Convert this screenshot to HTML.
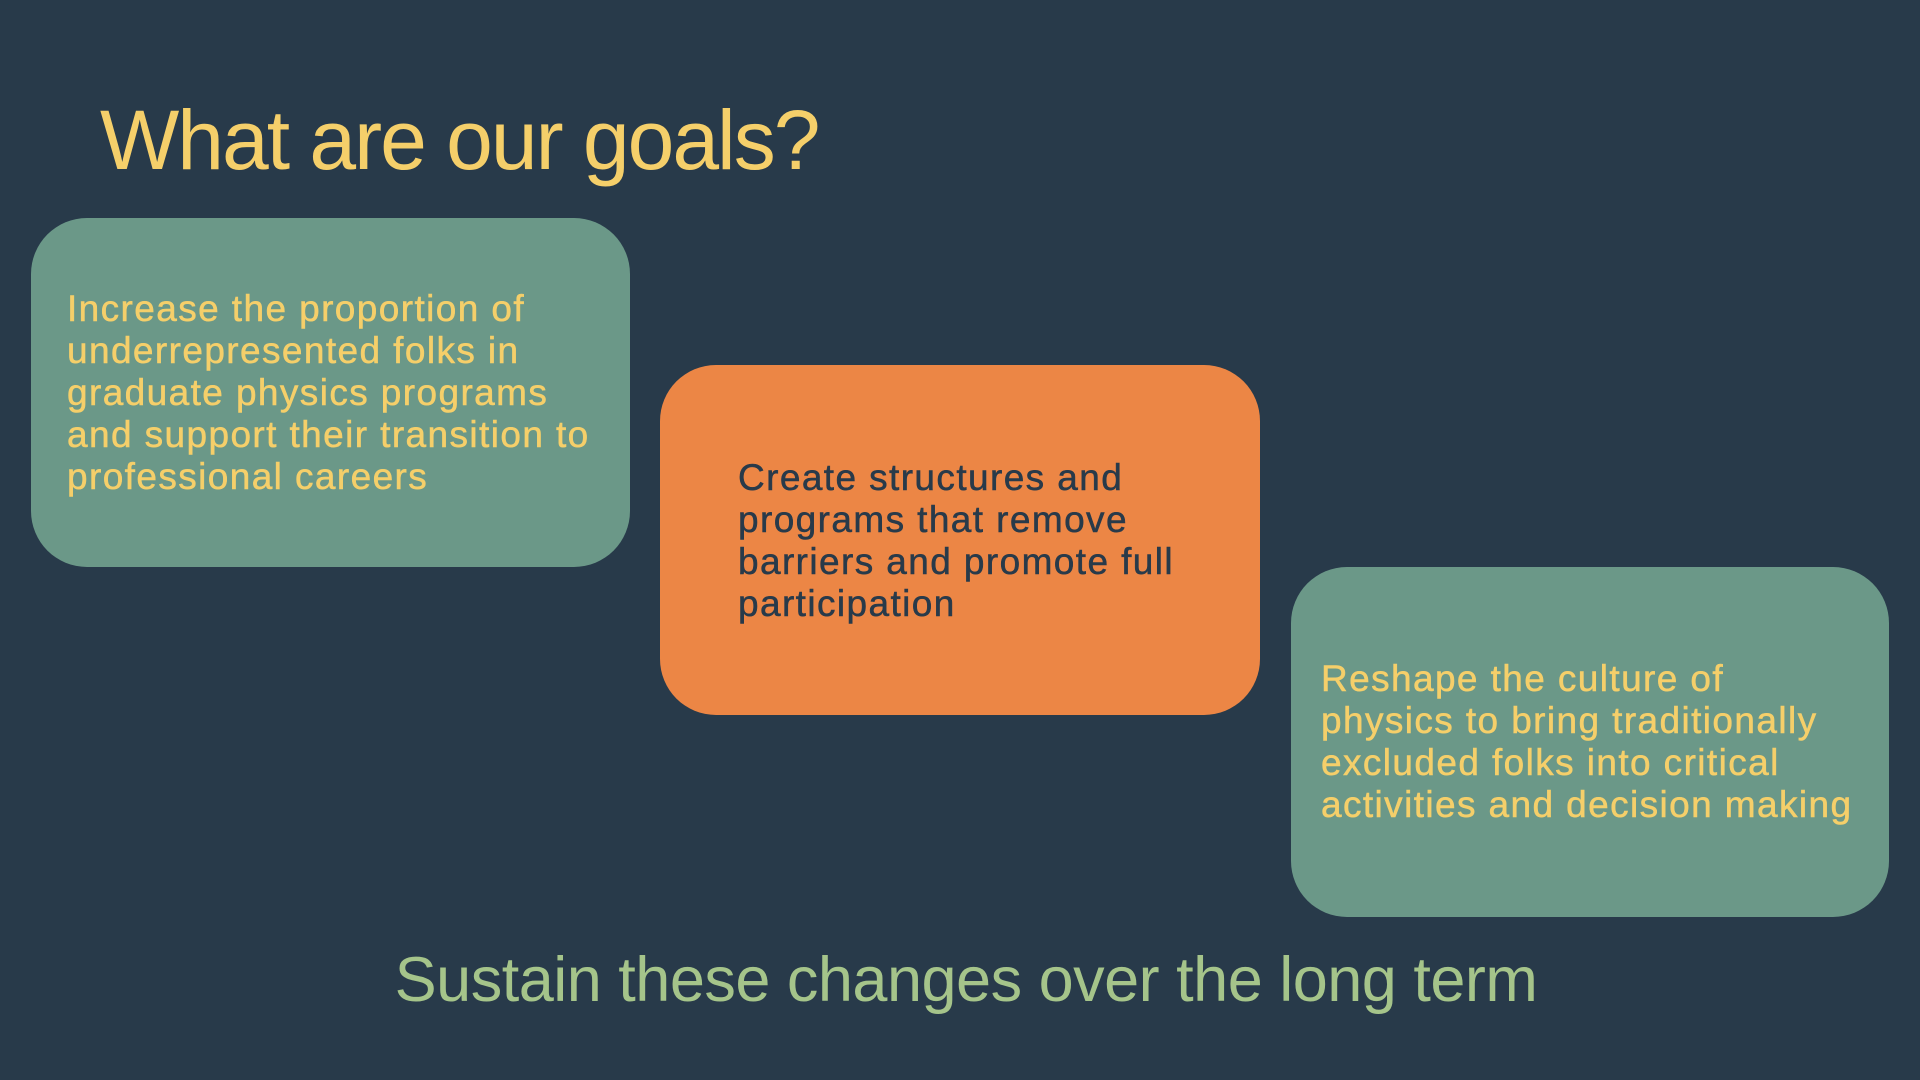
<!DOCTYPE html>
<html><head><meta charset="utf-8">
<style>
html,body{margin:0;padding:0;}
body{width:1920px;height:1080px;background:#283a4a;position:relative;overflow:hidden;font-family:"Liberation Sans",sans-serif;}
.t{position:absolute;left:100px;top:92px;font-size:84px;color:#f5cf6a;letter-spacing:-2px;white-space:nowrap;}
.box{position:absolute;border-radius:56px;box-sizing:border-box;}
.box p{position:absolute;margin:0;font-size:37px;line-height:42px;letter-spacing:1.4px;white-space:nowrap;-webkit-text-stroke:0.5px currentColor;}
.g{background:#6b9888;}
.g p{color:#f5cf6a;}
.o{background:#ec8645;}
.o p{color:#283a4a;}
.b{position:absolute;left:0;width:1932px;text-align:center;top:944px;font-size:63px;color:#a5c48a;letter-spacing:-0.5px;white-space:nowrap;}
</style></head><body>
<div class="t">What are our goals?</div>
<div class="box g" style="left:31px;top:218px;width:599px;height:349px;">
<p style="left:36px;top:70px;">Increase the proportion of<br>underrepresented folks in<br>graduate physics programs<br>and support their transition to<br>professional careers</p></div>
<div class="box o" style="left:660px;top:365px;width:600px;height:350px;">
<p style="left:78px;top:92px;">Create structures and<br>programs that remove<br>barriers and promote full<br>participation</p></div>
<div class="box g" style="left:1291px;top:567px;width:598px;height:350px;">
<p style="left:30px;top:91px;">Reshape the culture of<br>physics to bring traditionally<br>excluded folks into critical<br>activities and decision making</p></div>
<div class="b">Sustain these changes over the long term</div>
</body></html>
